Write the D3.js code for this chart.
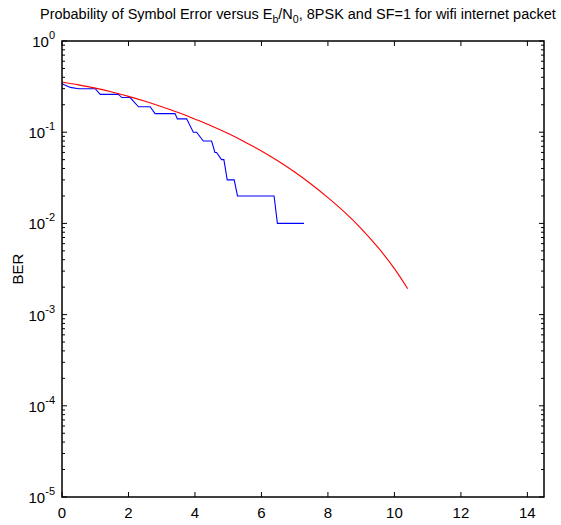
<!DOCTYPE html>
<html>
<head>
<meta charset="utf-8">
<script src="https://cdn.jsdelivr.net/npm/d3@7"></script>
<style>
  body { margin: 0; background: #fff; }
  svg { display: block; font-family: "Liberation Sans", Arial, sans-serif; }
</style>
</head>
<body>
<div id="chart"></div>
<script>
// Eb/N0 (dB) for the theoretical curve
const theoryX = [0, 0.5, 1, 1.5, 2, 2.5, 3, 3.5, 4, 4.5, 5, 5.5, 6, 6.5, 7, 7.5, 8, 8.5, 9, 9.5, 10, 10.4];
const theoryY = [0.355, 0.330, 0.304, 0.276, 0.247, 0.218, 0.190, 0.164, 0.139, 0.117, 0.0966, 0.0783,
                 0.0622, 0.0483, 0.0366, 0.0269, 0.0192, 0.0133, 0.00879, 0.00548, 0.00319, 0.00192];

// simulated packet
const simX = [0, 0.25, 0.5, 1.0, 1.15, 1.7, 1.8, 2.05, 2.3, 2.65, 2.8, 3.4, 3.47, 3.75, 3.95, 4.05,
              4.25, 4.5, 4.6, 4.65, 4.8, 4.87, 4.97, 5.18, 5.28, 6.38, 6.48, 7.28];
const simY = [0.34, 0.31, 0.30, 0.30, 0.26, 0.26, 0.24, 0.24, 0.19, 0.19, 0.16, 0.16, 0.14, 0.14, 0.10, 0.10,
              0.08, 0.08, 0.06, 0.06, 0.05, 0.05, 0.03, 0.03, 0.02, 0.02, 0.01, 0.01];

const xTicks = [0, 2, 4, 6, 8, 10, 12, 14];
const yExps = [0, -1, -2, -3, -4, -5];

const width = 561, height = 525;
const margin = { top: 41, right: 17, bottom: 28, left: 62 };

const svg = d3.select('#chart').append('svg')
    .attr('width', width)
    .attr('height', height);

const x = d3.scaleLinear().domain([0, 14.5]).range([margin.left, width - margin.right]);
const y = d3.scaleLog().domain([1e-5, 1]).range([height - margin.bottom, margin.top]);

const x0 = x.range()[0], x1 = x.range()[1];
const y0 = y.range()[0], y1 = y.range()[1];

// minor + major ticks, drawn inside like matlab
const ticks = svg.append('g').attr('stroke', '#000').attr('stroke-width', 1);

xTicks.forEach(v => {
    ticks.append('line').attr('x1', x(v)).attr('x2', x(v)).attr('y1', y0).attr('y2', y0 - 5);
    ticks.append('line').attr('x1', x(v)).attr('x2', x(v)).attr('y1', y1).attr('y2', y1 + 5);
});

yExps.forEach(e => {
    const v = Math.pow(10, e);
    ticks.append('line').attr('x1', x0).attr('x2', x0 + 5).attr('y1', y(v)).attr('y2', y(v));
    ticks.append('line').attr('x1', x1).attr('x2', x1 - 5).attr('y1', y(v)).attr('y2', y(v));
    if (e < 0) {
        for (let k = 2; k <= 9; k++) {
            const m = k * Math.pow(10, e);
            ticks.append('line').attr('x1', x0).attr('x2', x0 + 3).attr('y1', y(m)).attr('y2', y(m));
            ticks.append('line').attr('x1', x1).attr('x2', x1 - 3).attr('y1', y(m)).attr('y2', y(m));
        }
    }
});

// lines
const line = d3.line().x(d => x(d[0])).y(d => y(d[1]));

svg.append('path')
    .datum(simX.map((v, i) => [v, simY[i]]))
    .attr('fill', 'none')
    .attr('stroke', '#0000ff')
    .attr('stroke-width', 1.1)
    .attr('d', line);

svg.append('path')
    .datum(theoryX.map((v, i) => [v, theoryY[i]]))
    .attr('fill', 'none')
    .attr('stroke', '#ff0000')
    .attr('stroke-width', 1.1)
    .attr('d', d3.line().curve(d3.curveCatmullRom).x(d => x(d[0])).y(d => y(d[1])));

// frame
svg.append('rect')
    .attr('x', x0).attr('y', y1)
    .attr('width', x1 - x0).attr('height', y0 - y1)
    .attr('fill', 'none')
    .attr('stroke', '#000')
    .attr('stroke-width', 1.5);

// tick labels
svg.append('g').selectAll('text')
    .data(xTicks)
    .enter().append('text')
    .attr('x', d => x(d))
    .attr('y', y0 + 21)
    .attr('text-anchor', 'middle')
    .attr('font-size', 15)
    .text(d => d);

const yl = svg.append('g').selectAll('text')
    .data(yExps)
    .enter().append('text')
    .attr('x', x0 - 7)
    .attr('y', d => y(Math.pow(10, d)) + 6)
    .attr('text-anchor', 'end')
    .attr('font-size', 15);
yl.append('tspan').text('10');
yl.append('tspan').attr('dy', -8).attr('font-size', 11).text(d => d === 0 ? '0' : '-' + Math.abs(d));

svg.append('text')
    .attr('transform', 'translate(23,' + ((y0 + y1) / 2) + ') rotate(-90)')
    .attr('text-anchor', 'middle')
    .attr('font-size', 15)
    .text('BER');

// title with subscripts, squeezed horizontally to the narrow matlab look
const titleG = svg.append('g');
const title = titleG.append('text')
    .attr('x', 0)
    .attr('y', 0)
    .attr('font-size', 15);
title.append('tspan').text('Probability of Symbol Error versus E');
title.append('tspan').attr('dy', 4).attr('font-size', 11).text('b');
title.append('tspan').attr('dy', -4).text('/N');
title.append('tspan').attr('dy', 4).attr('font-size', 11).text('0');
title.append('tspan').attr('dy', -4).text(', 8PSK and SF=1 for wifi internet packet');

const tw = title.node().getComputedTextLength();
const sx = 516 / tw;
titleG.attr('transform', 'translate(40,19) scale(' + sx + ',1)');
</script>
</body>
</html>
